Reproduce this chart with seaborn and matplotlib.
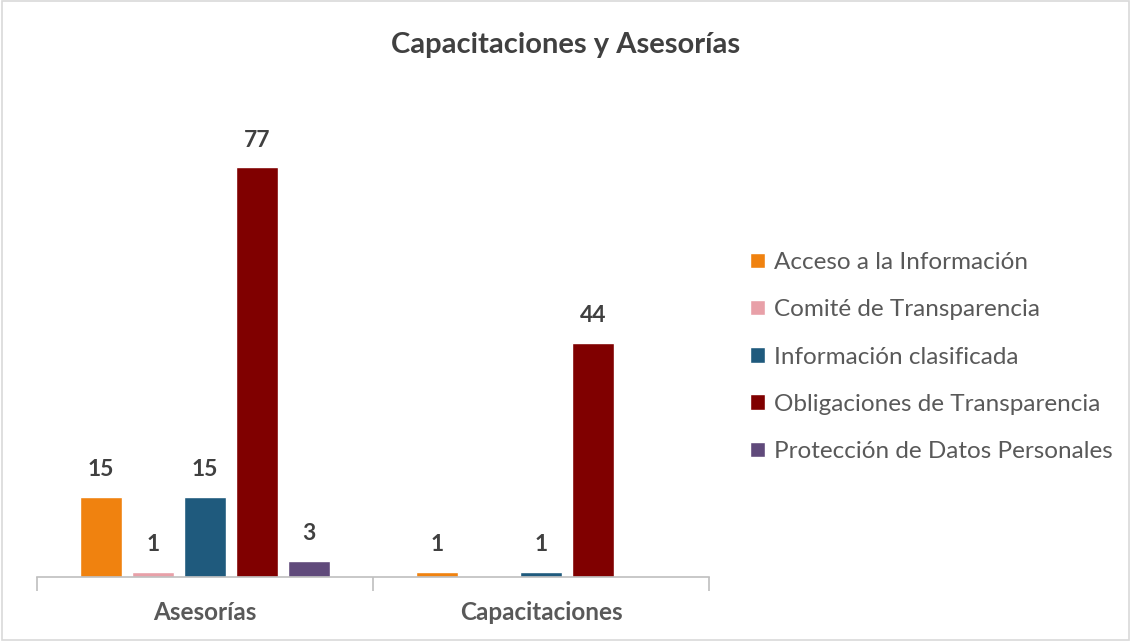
import matplotlib.pyplot as plt
import numpy as np
import pandas as pd
import seaborn as sns

categorias = ['Asesorías', 'Capacitaciones']
temas = ['Acceso a la Información', 'Comité de Transparencia', 'Información clasificada',
         'Obligaciones de Transparencia', 'Protección de Datos Personales']
asesorias = [15, 1, 15, 77, 3]
capacitaciones = [1, np.nan, 1, 44, np.nan]
colores = ['#F0820F', '#E8A0A8', '#1F5A7D', '#800000', '#604A7B']

df = pd.DataFrame({
    'categoria': [categorias[0]] * 5 + [categorias[1]] * 5,
    'tema': temas * 2,
    'valor': asesorias + capacitaciones,
})

sns.set_style('white')
plt.rcParams['font.family'] = ['Lato', 'DejaVu Sans']

fig = plt.figure(figsize=(11.31, 6.41), dpi=100)
ax = fig.add_axes([37 / 1131, 1 - 577 / 641, 672 / 1131, 479 / 641])

sns.barplot(data=df, x='categoria', y='valor', hue='tema', hue_order=temas,
            palette=colores, width=0.775, gap=0.2, ax=ax, saturation=1,
            legend=True)

for cont in ax.containers:
    ax.bar_label(cont, fmt='%g', padding=12, fontsize=16.5, fontweight='bold', color='#404040')

ax.set_ylim(0, 90)
ax.set_xlim(-0.5, 1.5)
ax.set_xlabel('')
ax.set_ylabel('')
ax.set_yticks([])
for s in ['top', 'right', 'left']:
    ax.spines[s].set_visible(False)
ax.spines['bottom'].set_color('#BFBFBF')
ax.spines['bottom'].set_linewidth(1.2)
ax.set_xticks([-0.5, 0.5, 1.5], minor=True)
ax.tick_params(axis='x', which='minor', bottom=True, length=10, color='#BFBFBF', width=1.2, direction='out')
ax.tick_params(axis='x', which='major', length=0, pad=17, labelsize=17.5, labelcolor='#595959')
for t in ax.get_xticklabels():
    t.set_fontweight('bold')

fig.text(0.5, 1 - 45 / 641, 'Capacitaciones y Asesorías', ha='center', va='center',
         fontsize=21, fontweight='bold', color='#404040')

leg = ax.legend(loc='center left', bbox_to_anchor=(750 / 1131, 1 - 357 / 641),
                bbox_transform=fig.transFigure, frameon=False, fontsize=17.5,
                borderpad=0, borderaxespad=0,
                handlelength=0.6, handleheight=0.6, handletextpad=0.4, labelspacing=1.08)
for t in leg.get_texts():
    t.set_color('#595959')

fig.patches.append(plt.Rectangle((0.002, 0.002), 0.996, 0.996, transform=fig.transFigure,
                                 fill=False, edgecolor='#D9D9D9', linewidth=1.2))

fig.savefig('out.png', dpi=100)
